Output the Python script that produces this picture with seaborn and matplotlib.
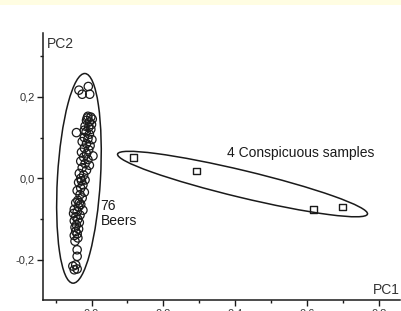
import numpy as np
import pandas as pd
import matplotlib
matplotlib.use("Agg")
import matplotlib.pyplot as plt
import seaborn as sns
from matplotlib.patches import Ellipse, Rectangle
from matplotlib.transforms import ScaledTranslation
from matplotlib.ticker import FixedLocator

# data
beer_pc1 = [-0.035, -0.009, -0.026, -0.005,
            -0.010, -0.002, 0.002, -0.014, -0.006, 0.000, -0.018, -0.008, -0.002, -0.042,
            -0.015, -0.006, -0.020, -0.010, 0.001, -0.026, -0.014, -0.004, -0.012, -0.020,
            -0.020, -0.008, -0.028, -0.014, 0.004, -0.022, -0.010, -0.030, -0.018, -0.006,
            -0.026, -0.014, -0.034, -0.022, -0.030, -0.018, -0.028,
            -0.036, -0.024, -0.030, -0.040, -0.020, -0.032, -0.026, -0.038, -0.044, -0.030,
            -0.036, -0.048, -0.024, -0.040, -0.050, -0.032, -0.034,
            -0.044, -0.038, -0.048, -0.034, -0.042, -0.046, -0.036, -0.044, -0.040, -0.048,
            -0.038, -0.046,
            -0.040, -0.040,
            -0.052, -0.044, -0.048, -0.040]
beer_pc2 = [0.216, 0.225, 0.206, 0.206,
            0.152, 0.150, 0.145, 0.142, 0.138, 0.132, 0.128, 0.125, 0.120, 0.112,
            0.114, 0.108, 0.100, 0.097, 0.095, 0.090, 0.085, 0.080, 0.148, 0.118,
            0.074, 0.070, 0.064, 0.060, 0.055, 0.052, 0.046, 0.042, 0.036, 0.032,
            0.026, 0.020, 0.012, 0.008, 0.000, -0.004, -0.006,
            -0.010, -0.016, -0.024, -0.030, -0.034, -0.040, -0.048, -0.054, -0.060, -0.064,
            -0.070, -0.076, -0.078, -0.082, -0.086, -0.090, -0.060,
            -0.094, -0.100, -0.104, -0.108, -0.114, -0.120, -0.124, -0.130, -0.136, -0.140,
            -0.146, -0.154,
            -0.175, -0.191,
            -0.215, -0.212, -0.224, -0.222]

odd_pc1 = [0.116, 0.292, 0.618, 0.699]
odd_pc2 = [0.051, 0.018, -0.076, -0.070]

x_ticks = [0.0, 0.2, 0.4, 0.6, 0.8]
x_tick_labels = ["0,0", "0,2", "0,4", "0,6", "0,8"]
y_ticks = [-0.2, 0.0, 0.2]
y_tick_labels = ["-0,2", "0,0", "0,2"]

beers = pd.DataFrame({"PC1": beer_pc1, "PC2": beer_pc2})
odd = pd.DataFrame({"PC1": odd_pc1, "PC2": odd_pc2})

sns.set_style("ticks")
plt.rcParams["font.family"] = ["Liberation Sans", "DejaVu Sans"]

ink = "#1a1a1a"
fig = plt.figure(figsize=(4.02, 3.11), dpi=100)
fig.patches.append(Rectangle((0, 1 - 5 / 311), 1, 5 / 311, transform=fig.transFigure,
                             facecolor="#fffde2", edgecolor="none", zorder=0))
ax = fig.add_axes([43 / 402, 11 / 311, 357 / 402, 267 / 311])

sns.scatterplot(data=beers, x="PC1", y="PC2", ax=ax, marker="o", s=36,
                facecolor="none", edgecolor=ink, linewidth=0.9)
sns.scatterplot(data=odd, x="PC1", y="PC2", ax=ax, marker="s", s=24,
                facecolor="none", edgecolor=ink, linewidth=1.0)

# group ellipses (sizes in inches, drawn around a data-space centre)
def group_ellipse(cx, cy, w, h, angle):
    tr = fig.dpi_scale_trans + ScaledTranslation(cx, cy, ax.transData)
    ax.add_patch(Ellipse((0, 0), w, h, angle=angle, transform=tr,
                         fill=False, edgecolor=ink, linewidth=1.1, clip_on=False))

group_ellipse(-0.035, 0.0, 2.10, 0.43, 86.7)
group_ellipse(0.42, -0.014, 2.57, 0.27, -13.5)

ax.text(0.025, -0.087, "76\nBeers", fontsize=10, color=ink, ha="left", va="center",
        linespacing=1.1)
ax.text(0.377, 0.062, "4 Conspicuous samples", fontsize=10, color=ink, ha="left", va="center")

ax.set_xlim(-0.135, 0.858)
ax.set_ylim(-0.298, 0.356)
ax.set_xticks(x_ticks)
ax.set_xticklabels(x_tick_labels)
ax.set_yticks(y_ticks)
ax.set_yticklabels(y_tick_labels)
ax.xaxis.set_minor_locator(FixedLocator([-0.1, 0.1, 0.3, 0.5, 0.7]))
ax.yaxis.set_minor_locator(FixedLocator([-0.1, 0.1, 0.3]))
ax.tick_params(which="major", length=4, width=1.0, color=ink, labelsize=8,
               labelcolor="#333333", pad=2)
ax.tick_params(which="minor", length=2.5, width=1.0, color=ink)
ax.set_xlabel("")
ax.set_ylabel("")
sns.despine(ax=ax)
for s in ["left", "bottom"]:
    ax.spines[s].set_color(ink)
    ax.spines[s].set_linewidth(1.1)

ax.text(0.01, 0.985, "PC2", transform=ax.transAxes, fontsize=10, color="#333333",
        ha="left", va="top")
ax.text(1.0, 0.012, "PC1", transform=ax.transAxes, fontsize=10, color="#333333",
        ha="right", va="bottom")

fig.savefig("out.png", dpi=100)
